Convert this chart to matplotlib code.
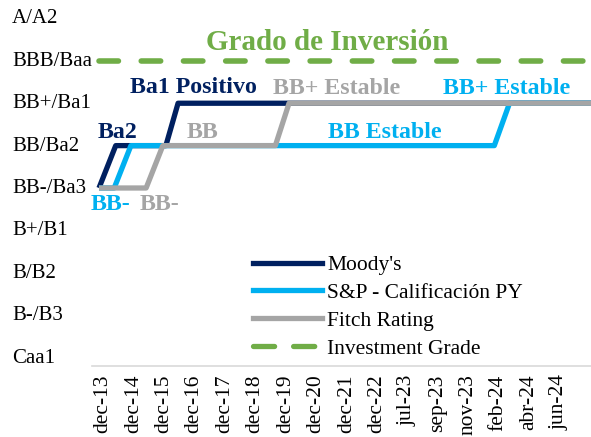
import matplotlib
matplotlib.use("Agg")
import matplotlib.pyplot as plt
import matplotlib.transforms as mtransforms
from matplotlib.lines import Line2D

plt.rcParams['font.family'] = ['Liberation Serif', 'DejaVu Serif']

# ---- data ----
periods = ['dec-13', 'dec-14', 'dec-15', 'dec-16', 'dec-17', 'dec-18', 'dec-19',
           'dec-20', 'dec-21', 'dec-22', 'jul-23', 'sep-23', 'nov-23', 'feb-24',
           'abr-24', 'jun-24']
rating_labels = ['Caa1', 'B-/B3', 'B/B2', 'B+/B1', 'BB-/Ba3', 'BB/Ba2',
                 'BB+/Ba1', 'BBB/Baa', 'A/A2']
rating_levels = [1, 2, 3, 4, 5, 6, 7, 8, 9]

# positions along the period axis (period index, fractional between labels)
moodys_x = [0, 0.55, 2.2, 2.6, 16.3]
moodys_y = [5, 6, 6, 7, 7]
sp_x = [0, 0.5, 1.05, 13.0, 13.5, 16.3]
sp_y = [5, 5, 6, 6, 7, 7]
fitch_x = [0, 1.55, 2.1, 5.8, 6.25, 16.3]
fitch_y = [5, 5, 6, 6, 7, 7]
ig_x = [0, 16.3]
ig_y = [8, 8]

C_MOODY = '#002060'
C_SP = '#00B0F0'
C_FITCH = '#A5A5A5'
C_IG = '#70AD47'

fig = plt.figure(figsize=(5.91, 4.37), dpi=100)
ax = fig.add_axes([92 / 591, (437 - 366) / 437, (591 - 92) / 591, 356 / 437])

lw = 3.8
kw = dict(linewidth=lw, solid_joinstyle='round', solid_capstyle='butt')
ax.plot(moodys_x, moodys_y, color=C_MOODY, label="Moody's", **kw)
ax.plot(sp_x, sp_y, color=C_SP, label='S&P - Calificación PY', **kw)
ax.plot(fitch_x, fitch_y, color=C_FITCH, label='Fitch Rating', **kw)
ig_line, = ax.plot(ig_x, ig_y, color=C_IG, linewidth=4, dash_capstyle='round',
                   label='Investment Grade')
ig_line.set_dashes([3.5, 4.1])

ax.set_xlim(-0.23, 16.18)
ax.set_ylim(0.8, 9.2)
ax.set_xticks(range(len(periods)))
ax.set_xticklabels(periods, rotation=90, fontsize=15.5)
ax.set_yticks(rating_levels)
ax.set_yticklabels(rating_labels, fontsize=15, ha='left')
ax.tick_params(axis='y', length=0, pad=57.6)
ax.tick_params(axis='x', length=0, pad=6)
shift = mtransforms.ScaledTranslation(4 / 100, 0, fig.dpi_scale_trans)
for t in ax.get_xticklabels():
    t.set_transform(t.get_transform() + shift)
ytshift = mtransforms.ScaledTranslation(0, 2 / 100, fig.dpi_scale_trans)
for t in ax.get_yticklabels():
    t.set_transform(t.get_transform() + ytshift)
for s in ['top', 'right', 'left']:
    ax.spines[s].set_visible(False)
ax.spines['bottom'].set_color('#D9D9D9')
ax.spines['bottom'].set_linewidth(1.2)

bold = dict(fontweight='bold', ha='center', va='center', fontsize=17.2)
ax.text(7.49, 8.44, 'Grado de Inversión', color=C_IG, fontweight='bold',
        ha='center', va='center', fontsize=21)
ax.text(3.09, 7.36, 'Ba1 Positivo', color=C_MOODY, **bold)
ax.text(7.8, 7.34, 'BB+ Estable', color=C_FITCH, **bold)
ax.text(13.42, 7.34, 'BB+ Estable', color=C_SP, **bold)
ax.text(9.41, 6.32, 'BB Estable', color=C_SP, **bold)
ax.text(3.42, 6.32, 'BB', color=C_FITCH, **bold)
ax.text(0.625, 6.30, 'Ba2', color=C_MOODY, **bold)
ax.text(0.39, 4.62, 'BB-', color=C_SP, **bold)
ax.text(2.0, 4.62, 'BB-', color=C_FITCH, **bold)

handles = [Line2D([], [], color=C_MOODY, linewidth=lw),
           Line2D([], [], color=C_SP, linewidth=lw),
           Line2D([], [], color=C_FITCH, linewidth=lw),
           Line2D([], [], color=C_IG, linewidth=lw, dashes=[4.0, 3.6],
                  dash_capstyle='round')]
labels = ["Moody's", 'S&P - Calificación PY', 'Fitch Rating', 'Investment Grade']
fig.legend(handles, labels, loc='upper left',
           bbox_to_anchor=(253 / 591, 1 - 255 / 437),
           frameon=False, fontsize=15.5, handlelength=3.2, handletextpad=0.25,
           labelspacing=0.36, borderpad=0, borderaxespad=0)

fig.savefig('out.png', dpi=100)
